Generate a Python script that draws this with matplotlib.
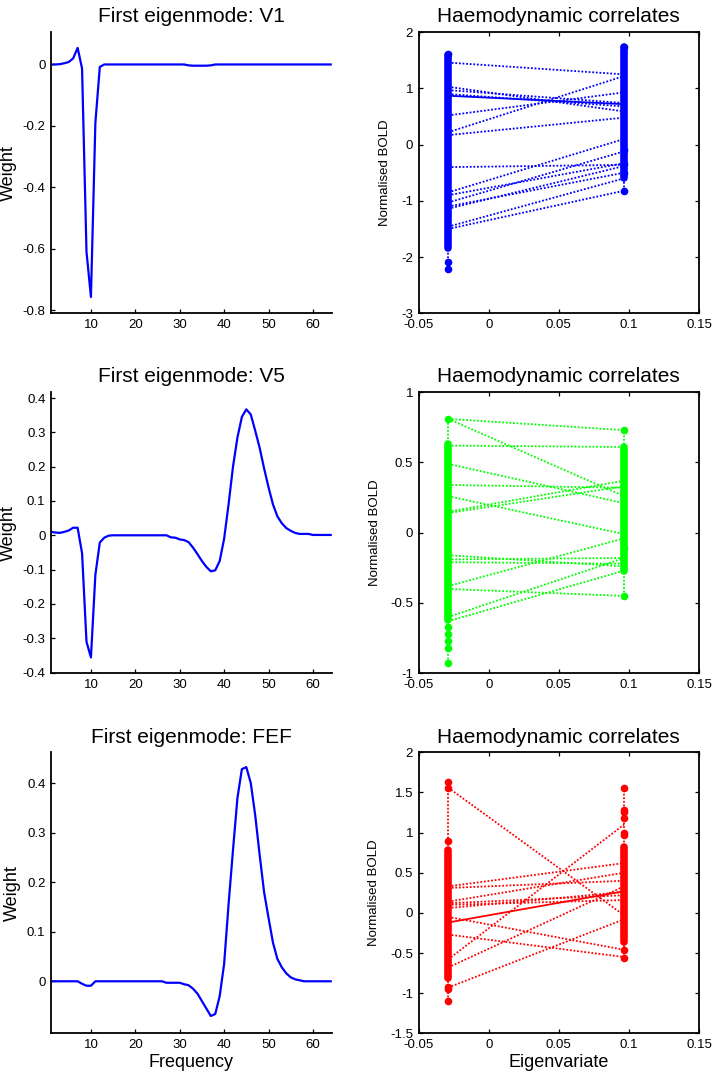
import numpy as np
import matplotlib
matplotlib.use('Agg')
import matplotlib.pyplot as plt
from matplotlib.ticker import FuncFormatter

plt.rcParams['font.family'] = ['Liberation Sans', 'DejaVu Sans']
plt.rcParams['axes.unicode_minus'] = False

# eigenmode weights over frequency (1..64)
freq = np.arange(1, 65)
regions = ['V1', 'V5', 'FEF']

w_v1 = [0, 0, 0.001, 0.004, 0.008, 0.020, 0.054, -0.013, -0.610, -0.757,
        -0.190, -0.008, 0, 0, 0, 0, 0, 0, 0, 0,
        0, 0, 0, 0, 0, 0, 0, 0, 0, 0,
        0, -0.003, -0.004, -0.004, -0.004, -0.004, -0.003, 0, 0, 0,
        0, 0, 0, 0, 0, 0, 0, 0, 0, 0,
        0, 0, 0, 0, 0, 0, 0, 0, 0, 0,
        0, 0, 0, 0]
w_v5 = [0.010, 0.008, 0.007, 0.010, 0.014, 0.022, 0.022, -0.052, -0.310, -0.356,
        -0.115, -0.021, -0.007, -0.001, 0, 0, 0, 0, 0, 0,
        0, 0, 0, 0, 0, 0, 0, -0.006, -0.007, -0.012,
        -0.014, -0.020, -0.036, -0.055, -0.075, -0.092, -0.105, -0.102, -0.075, -0.010,
        0.090, 0.200, 0.285, 0.345, 0.367, 0.352, 0.305, 0.255, 0.195, 0.140,
        0.090, 0.055, 0.035, 0.021, 0.013, 0.007, 0.004, 0.004, 0.004, 0.001,
        0.001, 0.001, 0.001, 0.001]
w_fef = [0, 0, 0, 0, 0, 0, 0, -0.005, -0.009, -0.009,
         0, 0, 0, 0, 0, 0, 0, 0, 0, 0,
         0, 0, 0, 0, 0, 0, -0.003, -0.003, -0.003, -0.003,
         -0.006, -0.008, -0.015, -0.025, -0.040, -0.055, -0.070, -0.066, -0.030, 0.035,
         0.155, 0.265, 0.370, 0.428, 0.432, 0.400, 0.335, 0.255, 0.180, 0.128,
         0.078, 0.045, 0.028, 0.016, 0.008, 0.004, 0.002, 0, 0, 0,
         0, 0, 0, 0]

# haemodynamic correlates: two eigenvariate values
eig_vals = [-0.029, 0.0965]

# blue (V1)
blue_left_band = (-1.84, 1.60)
blue_left_pts = [1.62, -2.08, -2.22]
blue_right_band = (-0.60, 1.74)
blue_right_pts = [1.74, -0.10, -0.35, -0.50, -0.82]
blue_links = [(1.46, 1.25), (1.03, 0.59), (0.97, 0.74), (0.90, 0.68),
              (0.22, 1.22), (0.52, 0.93), (0.17, 0.48), (-0.40, -0.36),
              (-0.85, 0.10), (-0.90, -0.33), (-1.03, -0.12), (-1.10, -0.50),
              (-1.14, -0.38), (-1.46, -0.60), (-1.50, -0.82)]
blue_solid = [(0.87, 0.72)]

# green (V5)
green_left_band = (-0.62, 0.63)
green_left_pts = [0.81, -0.67, -0.72, -0.77, -0.82, -0.93]
green_right_band = (-0.27, 0.61)
green_right_pts = [0.73, -0.11, -0.45]
green_links = [(0.81, 0.73), (0.81, 0.26), (0.62, 0.61), (0.49, 0.21),
               (0.34, 0.32), (0.26, -0.01), (0.15, 0.37), (0.14, 0.33),
               (-0.16, -0.24), (-0.19, -0.18), (-0.21, -0.22), (-0.38, -0.04),
               (-0.40, -0.45), (-0.60, -0.18), (-0.63, -0.27)]
green_solid = []

# red (FEF)
red_left_band = (-0.81, 0.78)
red_left_pts = [1.63, 1.56, 0.89, -0.92, -0.95, -1.10]
red_right_band = (-0.36, 0.82)
red_right_pts = [1.55, 1.28, 1.25, 1.18, 0.99, 0.97, -0.46, -0.56]
red_links = [(1.56, -0.03), (0.33, 0.62), (0.31, 0.40), (0.14, 0.50),
             (0.12, 0.22), (0.10, 0.16), (0.06, 0.26), (-0.05, -0.46),
             (-0.27, -0.55), (-0.58, 1.10), (-0.68, 0.33), (-0.93, -0.08)]
red_solid = [(-0.12, 0.27)]

weights = [w_v1, w_v5, w_fef]
left_ylims = [(-0.81, 0.105), (-0.402, 0.417), (-0.105, 0.462)]
left_yticks = [[-0.8, -0.6, -0.4, -0.2, 0], [-0.4, -0.3, -0.2, -0.1, 0, 0.1, 0.2, 0.3, 0.4],
               [0, 0.1, 0.2, 0.3, 0.4]]

panels = [
    ('b', blue_left_band, blue_left_pts, blue_right_band, blue_right_pts, blue_links, blue_solid,
     (-3, 2), [-3, -2, -1, 0, 1, 2]),
    ('#00ff00', green_left_band, green_left_pts, green_right_band, green_right_pts, green_links,
     green_solid, (-1, 1), [-1, -0.5, 0, 0.5, 1]),
    ('r', red_left_band, red_left_pts, red_right_band, red_right_pts, red_links, red_solid,
     (-1.5, 2), [-1.5, -1, -0.5, 0, 0.5, 1, 1.5, 2]),
]

fmt = FuncFormatter(lambda v, pos: '0' if abs(v) < 1e-9 else '%g' % v)

fig = plt.figure(figsize=(7.14, 10.81), dpi=100)
bottoms = [0.7102, 0.3772, 0.0441]
H = 0.26

for i in range(3):
    ax = fig.add_axes([0.0714, bottoms[i], 0.3936, H])
    ax.plot(freq, weights[i], color='b', lw=1.6)
    ax.set_xlim(1, 64.3)
    ax.set_ylim(left_ylims[i])
    ax.set_xticks([10, 20, 30, 40, 50, 60])
    ax.set_yticks(left_yticks[i])
    ax.yaxis.set_major_formatter(fmt)
    ax.spines['top'].set_visible(False)
    ax.spines['right'].set_visible(False)
    for s in ['left', 'bottom']:
        ax.spines[s].set_linewidth(1.3)
    ax.tick_params(direction='in', length=3, width=0.9, labelsize=9.5, pad=4)
    ax.set_title('First eigenmode: ' + regions[i], fontsize=15, pad=7)
    ax.set_ylabel('Weight', fontsize=13, labelpad=4)
    if i == 2:
        ax.set_xlabel('Frequency', fontsize=13, labelpad=2)

    col, lband, lpts, rband, rpts, links, solid, ylim, yticks = panels[i]
    ax2 = fig.add_axes([0.5864, bottoms[i], 0.3926, H])
    for a, b in links:
        ax2.plot(eig_vals, [a, b], color=col, ls=(0, (1, 1)), lw=1.3)
    for a, b in solid:
        ax2.plot(eig_vals, [a, b], color=col, ls='-', lw=1.3)
    for x, band, pts in [(eig_vals[0], lband, lpts), (eig_vals[1], rband, rpts)]:
        allv = list(band) + pts
        ax2.plot([x, x], [min(allv), max(allv)], color=col, ls=(0, (1, 1)), lw=1.3)
        ax2.plot([x, x], band, color=col, lw=5.5, solid_capstyle='round')
        ax2.plot([x] * len(pts), pts, 'o', color=col, ms=5.5, mew=0)
    ax2.set_xlim(-0.05, 0.15)
    ax2.set_ylim(ylim)
    ax2.set_xticks([-0.05, 0, 0.05, 0.1, 0.15])
    ax2.set_yticks(yticks)
    ax2.xaxis.set_major_formatter(fmt)
    ax2.yaxis.set_major_formatter(fmt)
    for s in ax2.spines.values():
        s.set_linewidth(1.3)
    ax2.tick_params(direction='in', length=3, width=0.9, labelsize=9.5, pad=4,
                    top=True, right=True)
    ax2.set_title('Haemodynamic correlates', fontsize=15, pad=7)
    ax2.set_ylabel('Normalised BOLD', fontsize=9.5, labelpad=7)
    if i == 2:
        ax2.set_xlabel('Eigenvariate', fontsize=13, labelpad=2)

fig.savefig('out.png', dpi=100)
